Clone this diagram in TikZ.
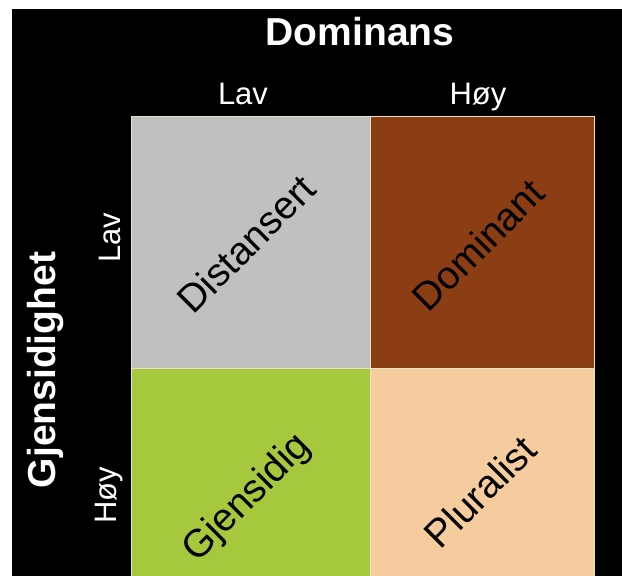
\documentclass[tikz,border=0pt]{standalone}
\usepackage{fontspec}
\setmainfont{Liberation Sans}
\definecolor{qgray}{HTML}{C0C0C0}
\definecolor{qbrown}{HTML}{8B3D14}
\definecolor{qgreen}{HTML}{A6C83C}
\definecolor{qpeach}{HTML}{F4CC9D}
\definecolor{qedge}{HTML}{E8E2C8}
\begin{document}
\begin{tikzpicture}[x=1pt,y=-1pt,
  quad/.style={draw=qedge,line width=0.8pt,inner sep=0pt,outer sep=0pt},
  qword/.style={text=black,rotate=45,anchor=mid,inner sep=0pt,font=\fontsize{39}{46}\selectfont},
  axtitle/.style={text=white,anchor=base,inner sep=0pt,font=\fontsize{39}{46}\selectfont\bfseries},
  axlevel/.style={text=white,anchor=base,inner sep=0pt,font=\fontsize{31}{37}\selectfont}]
\useasboundingbox (0,0) rectangle (622,576);
\fill[white] (0,0) rectangle (622,576);
\fill[black] (12,9) rectangle (622,576);
% quadrants
\path[quad,fill=qgray]  (131,116) rectangle (370,368);
\path[quad,fill=qbrown] (370,116) rectangle (594,368);
\path[quad,fill=qgreen] (131,368) rectangle (370,578);
\path[quad,fill=qpeach] (370,368) rectangle (594,578);
% quadrant words
\node[qword] (dist) at (254,252) {Distansert};
\node[qword] (domi) at (486,253) {Dominant};
\node[qword] (gjen) at (253,504) {Gjensidig};
\node[qword] (plur) at (488,500) {Pluralist};
% axis titles
\node[axtitle] (dominans) at (360,45) {Dominans};
\node[axtitle,rotate=90] (gjensidighet) at (55,370) {Gjensidighet};
% levels
\node[axlevel] (toplav) at (243,104) {Lav};
\node[axlevel] (tophoy) at (478,104) {Høy};
\node[axlevel,rotate=90] (leftlav) at (120,238) {Lav};
\node[axlevel,rotate=90] (lefthoy) at (116,495) {Høy};
\end{tikzpicture}
\end{document}
